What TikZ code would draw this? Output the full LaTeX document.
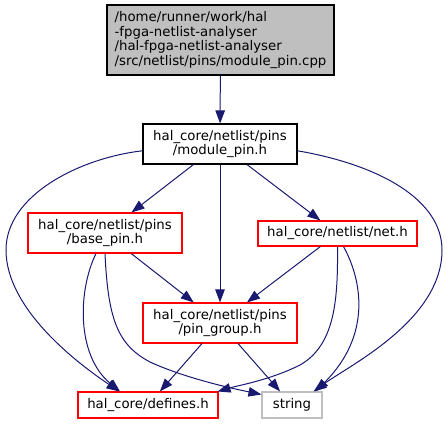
\documentclass[tikz,border=0pt]{standalone}
\usepackage{fontspec}
\setmainfont{DejaVu Sans}
\usetikzlibrary{arrows.meta}
\definecolor{arco}{HTML}{191970}
\definecolor{grigio}{HTML}{BFBFBF}
\definecolor{rosso}{HTML}{FF0000}
\tikzset{
  file/.style={draw=rosso, fill=white, line width=1.1pt, inner sep=0pt,
    align=center, font=\fontsize{13.3}{14.8}\selectfont},
  dipende/.style={draw=arco, line width=1pt,
    -{Triangle[length=13pt,width=9.5pt]}}
}
\begin{document}
\begin{tikzpicture}[x=1pt, y=-1pt]
        % --- macro riutilizzabili -----------------------------------------
        \def\file#1#2#3#4#5#6{\node[file, minimum width=#4pt, minimum height=#5pt] (#1) at (#2,#3) {#6};}
        \useasboundingbox (0,0) rectangle (447,424);
        % --- file ---------------------------------------------------------
        \node[file, draw=black, fill=grigio, minimum width=227pt, minimum height=70pt, align=left]
            (cpp) at (220.5,40) {/home/runner/work/hal\\-fpga-netlist-analyser\\/hal-fpga-netlist-analyser\\/src/netlist/pins/module\_pin.cpp};
        \node[file, draw=black, minimum width=154pt, minimum height=40pt]
            (mp) at (220,144) {hal\_core/netlist/pins\\/module\_pin.h};
        \file{bp}{105}{233}{154}{40}{hal\_core/netlist/pins\\/base\_pin.h}
        \file{net}{337.5}{233.5}{159}{25}{hal\_core/netlist/net.h}
        \file{grp}{220}{323}{154}{40}{hal\_core/netlist/pins\\/pin\_group.h}
        \file{def}{148}{405}{140}{26}{hal\_core/defines.h}
        \node[file, draw=grigio, minimum width=60pt, minimum height=26pt] (str) at (292,405) {string};
        % --- dipendenze dirette -------------------------------------------
        \draw[dipende] (cpp) -- (mp);
        \draw[dipende] (mp) -- (bp);
        \draw[dipende] (mp) -- (net);
        \draw[dipende] (mp) -- (grp);
        \draw[dipende] (bp) -- (grp);
        \draw[dipende] (net) -- (grp);
        \draw[dipende] (grp) -- (def);
        \draw[dipende] (grp) -- (str);
        % --- dipendenze curve ---------------------------------------------
        \draw[dipende] (mp.185) .. controls (80,158) and (6,195) .. (6,250)
            .. controls (6,310) and (80,365) .. ([xshift=42pt]def.north west);
        \draw[dipende] (mp.355) .. controls (380,165) and (442,200) .. (442,250)
            .. controls (442,320) and (350,365) .. ([xshift=-9pt]str.north east);
        \draw[dipende] ([xshift=-9pt]bp.south) .. controls (78,290) and (76,355) .. ([xshift=-28pt]def.north);
        \draw[dipende] (bp.south) .. controls (108,320) and (118,345) .. (150,362)
            .. controls (185,378) and (230,388) .. ([yshift=-3pt]str.north west);
        \draw[dipende] (net.south) .. controls (338,300) and (335,345) .. (300,365)
            .. controls (270,380) and (240,385) .. ([xshift=-1pt]def.north east);
        \draw[dipende] ([xshift=6pt]net.south) .. controls (362,280) and (372,335) .. ([xshift=-7pt]str.north east);
\end{tikzpicture}
\end{document}
